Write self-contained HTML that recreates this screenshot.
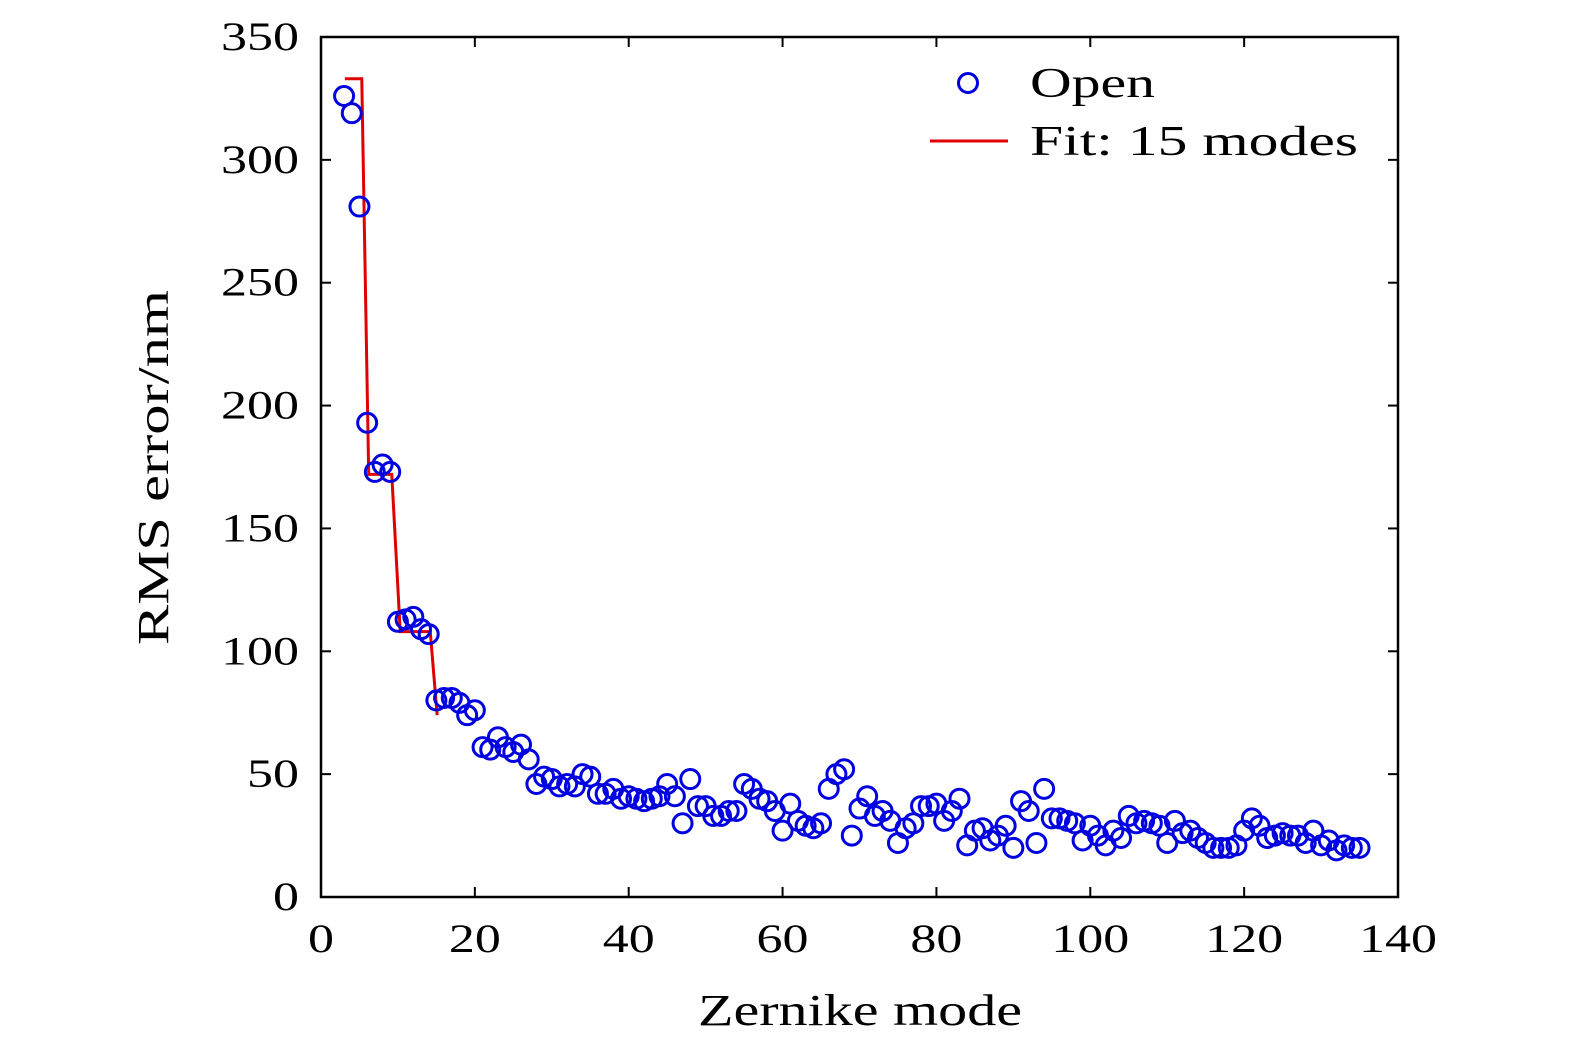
<!DOCTYPE html>
<html><head><meta charset="utf-8"><style>
body{margin:0;background:#fff;}
svg text{font-family:"Liberation Serif",serif;fill:#000;}
</style></head><body>
<svg id="chart" width="1575" height="1053" viewBox="0 0 1575 1053" xmlns="http://www.w3.org/2000/svg">
<g id="plot"></g>
</svg>
<script>
const modes = [];
for (let m = 3; m <= 135; m++) modes.push(m);
const openValues = [326,319,281,193,173,176,173,112,113,114,109,107,80,81,81,79,74,76,61,60,65,61,59,62,56,46,49,48,45,46,45,50,49,42,42,44,40,41,40,39,40,41,46,41,30,48,37,37,33,33,35,35,46,44,40,39,35,27,38,31,29,28,30,44,50,52,25,36,41,33,35,31,22,28,30,37,37,38,31,35,40,21,27,28,23,25,29,20,39,35,22,44,32,32,31,30,23,29,25,21,27,24,33,30,31,30,29,22,31,26,27,24,22,20,20,20,21,27,32,29,24,25,26,25,25,22,27,21,23,19,21,20,20];
const fitX = [3.1,5.3,6.2,9.2,10.3,14.2,15.1];
const fitY = [333,333,172,172,108,108,74];
const xTicks = [0,20,40,60,80,100,120,140];
const yTicks = [0,50,100,150,200,250,300,350];

const L=321,R=1398,T=37,B=897;
const sx=v=>L+(v-0)/140*(R-L);
const sy=v=>B-(v-0)/350*(B-T);
const NS="http://www.w3.org/2000/svg";
const g=document.getElementById('plot');
function mk(tag,attrs,parent){const e=document.createElementNS(NS,tag);for(const k in attrs)e.setAttribute(k,attrs[k]);(parent||g).appendChild(e);return e;}

xTicks.forEach(v=>{
  const t=mk('line',{x1:sx(v),x2:sx(v),y1:B,y2:B-10,stroke:'#000','stroke-width':2});
  
  
  const t2=mk('line',{x1:sx(v),x2:sx(v),y1:T,y2:T+10,stroke:'#000','stroke-width':2});
  
  
  const s=String(v);
  const l=mk('text',{x:sx(v),y:952,'text-anchor':'middle','font-size':40,textLength:s.length*26,lengthAdjust:'spacingAndGlyphs'});
  l.textContent=s;
  
  
});
yTicks.forEach(v=>{
  const t=mk('line',{x1:L,x2:L+10,y1:sy(v),y2:sy(v),stroke:'#000','stroke-width':2});
  
  
  const t2=mk('line',{x1:R,x2:R-10,y1:sy(v),y2:sy(v),stroke:'#000','stroke-width':2});
  
  
  const s=String(v);
  const l=mk('text',{x:299,y:sy(v)+13,'text-anchor':'end','font-size':40,textLength:s.length*26,lengthAdjust:'spacingAndGlyphs'});
  l.textContent=s;
  
  
});

const fit=mk('polyline',{points:fitX.map((x,i)=>sx(x)+','+sy(fitY[i])).join(' '),fill:'none',stroke:'#e00000','stroke-width':3});



modes.forEach((m,i)=>{
  const c=mk('circle',{cx:sx(m),cy:sy(openValues[i]),r:9.5,fill:'none',stroke:'#0000e0','stroke-width':3});
  
  
});

const frame=mk('rect',{x:L,y:T,width:R-L,height:B-T,fill:'none',stroke:'#000','stroke-width':2.5});



const lc=mk('circle',{cx:968,cy:83,r:9.5,fill:'none',stroke:'#0000e0','stroke-width':3});


const lt=mk('text',{x:1030,y:97,'font-size':42,textLength:125,lengthAdjust:'spacingAndGlyphs'});
lt.textContent='Open';


const ll=mk('line',{x1:930,x2:1008,y1:141,y2:141,stroke:'#e00000','stroke-width':3});


const lt2=mk('text',{x:1030,y:155,'font-size':42,textLength:328,lengthAdjust:'spacingAndGlyphs'});
lt2.textContent='Fit: 15 modes';



const xt=mk('text',{x:698,y:1025,'font-size':44,textLength:324,lengthAdjust:'spacingAndGlyphs'});
xt.textContent='Zernike mode';


const yt=mk('text',{x:0,y:0,'font-size':44,textLength:355,lengthAdjust:'spacingAndGlyphs',transform:'translate(168,645) rotate(-90)'});
yt.textContent='RMS error/nm';


</script>
</body></html>
